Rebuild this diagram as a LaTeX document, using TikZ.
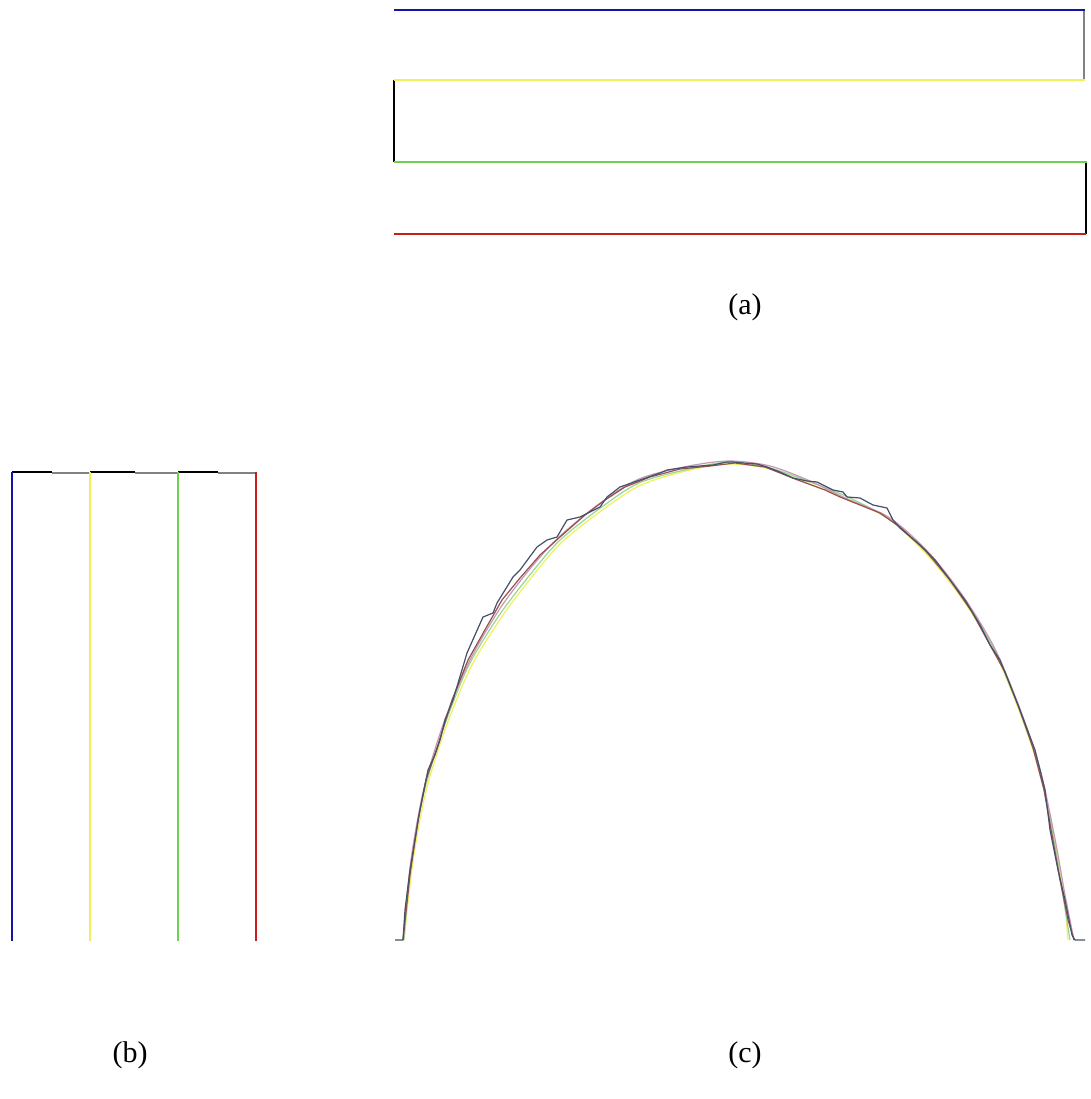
\documentclass[tikz,border=0pt]{standalone}
\usepackage{fontspec}
\setmainfont{Liberation Serif}
\definecolor{cblue}{RGB}{20,20,170}
\definecolor{cyel}{RGB}{240,240,90}
\definecolor{cgreen}{RGB}{110,210,80}
\definecolor{cred}{RGB}{200,30,30}
\definecolor{cgray}{RGB}{130,130,130}
\definecolor{cslate}{RGB}{70,80,105}
\definecolor{cbrown}{RGB}{150,80,80}
\definecolor{cpink}{RGB}{200,150,180}
\definecolor{clgreen}{RGB}{150,215,150}
\tikzset{
  ln/.style={line width=1.6pt},
  lbl/.style={font=\fontsize{30}{36}\selectfont, inner sep=0pt},
  cv/.style={line width=1.2pt, line join=round}
}
\begin{document}
\begin{tikzpicture}[x=1pt,y=-1pt]
\useasboundingbox (0,0) rectangle (1090,1099);
% (a)
\coordinate (a1) at (394,10);   \coordinate (a2) at (1085,10);
\coordinate (a3) at (394,80);   \coordinate (a4) at (1085,80);
\coordinate (a5) at (394,162);  \coordinate (a6) at (1087,162);
\coordinate (a7) at (394,234);  \coordinate (a8) at (1086,234);
\draw[ln,cgray] (1084,10) -- (1084,80);
\draw[ln,black] (a3) -- (a5);
\draw[ln,black] (1086,162) -- (1086,234);
\draw[ln,cblue] (a1) -- (a2);
\draw[ln,cyel] (a3) -- (a4);
\draw[ln,cgreen] (a5) -- (a6);
\draw[ln,cred] (a7) -- (a8);
\node[lbl] (la) at (745,307) {(a)};
% (b)
\draw[line width=1.2pt,black] (12,472) -- (52,472);
\draw[line width=1.2pt,cgray] (52,473) -- (90,473);
\draw[line width=1.2pt,black] (90,472) -- (135,472);
\draw[line width=1.2pt,cgray] (135,473) -- (178,473);
\draw[line width=1.2pt,black] (178,472) -- (218,472);
\draw[line width=1.2pt,cgray] (218,473) -- (256,473);
\draw[ln,cblue] (12,472) -- (12,941);
\draw[ln,cyel] (90,472) -- (90,941);
\draw[ln,cgreen] (178,472) -- (178,941);
\draw[ln,cred] (256,472) -- (256,941);
\node[lbl] (lb) at (130,1055) {(b)};
% (c)
\draw[cv,cyel] plot[smooth] coordinates {(404,940) (413,861) (426,791) (446,727) (471,667) (501,618) (531,578) (561,543) (601,511) (641,485) (690,470) (730,464) (770,469) (810,484) (850,500) (890,520) (930,558) (965,603) (995,653) (1020,713) (1040,773) (1055,843) (1064,898) (1068,940)};
\draw[cv,clgreen] plot[smooth] coordinates {(404,940) (411,862) (424,792) (444,727) (468,667) (498,617) (529,576) (559,541) (599,509) (639,483) (689,469) (730,462) (770,468) (810,482) (850,498) (890,520) (930,556) (965,601) (995,651) (1020,711) (1040,771) (1054,841) (1063,896) (1070,940)};
\draw[cv,cpink] plot[smooth] coordinates {(403,940) (411,860) (424,788) (444,722) (469,662) (499,610) (529,570) (559,537) (599,504) (639,479) (689,466) (730,461) (770,466) (810,481) (845,498) (890,518) (930,554) (965,599) (995,649) (1020,709) (1040,769) (1055,839) (1065,895) (1074,940)};
\draw[cv,cbrown] plot coordinates {(403,940) (410,875) (418,820) (426,780) (438,745) (452,700) (468,660) (486,628) (502,600) (520,578) (540,555) (560,537) (585,515) (605,500) (625,487) (650,477) (680,469) (710,466) (735,463) (765,467) (795,479) (825,490) (840,497) (860,505) (880,513) (900,527) (925,550) (950,580) (972,612) (990,645) (1005,672) (1018,705) (1033,748) (1044,790) (1052,835) (1060,880) (1068,920) (1074,940)};
\draw[cv,cslate] plot coordinates {(395,940) (403,940) (405,910) (410,870) (415,840) (420,810) (428,770) (435,755) (440,740) (445,720) (453,700) (467,653) (483,617) (493,613) (497,603) (513,577) (520,570) (537,547) (547,540) (557,537) (567,520) (580,517) (600,507) (607,497) (620,487) (640,480) (660,473) (667,470) (687,467) (713,465) (727,462) (733,462) (743,463) (757,464) (767,467) (780,472) (793,478) (807,481) (817,482) (833,490) (843,492) (847,497) (860,498) (873,505) (887,508) (893,520) (900,528) (920,545) (935,560) (950,580) (965,600) (980,625) (990,645) (1000,660) (1010,685) (1020,710) (1035,750) (1045,790) (1050,830) (1058,870) (1065,900) (1072,935) (1075,940) (1085,940)};
\node[lbl] (lc) at (745,1055) {(c)};
\end{tikzpicture}
\end{document}
